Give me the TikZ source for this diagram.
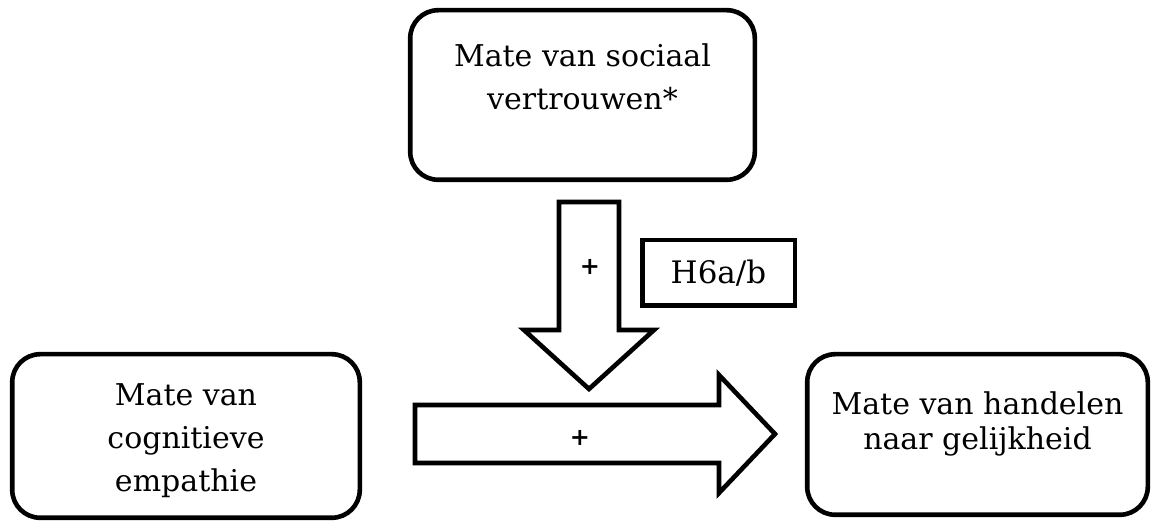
\documentclass[tikz,border=0pt]{standalone}
\usepackage{fontspec}
\setmainfont{DejaVu Serif}
\begin{document}
\begin{tikzpicture}[x=0.5pt, y=-0.5pt,
        box/.style={draw, line width=2.3pt, rounded corners=14pt},
        hbox/.style={draw, line width=2.3pt, font=\fontsize{15.5}{18}\selectfont},
        bigarrow/.style={draw, line width=2.3pt, line join=miter},
        txt/.style={align=center, inner sep=0pt, anchor=base, font=\fontsize{15}{21.5}\selectfont},
        sign/.style={inner sep=0pt, font=\fontsize{12}{14}\selectfont\bfseries}]
        \useasboundingbox (0,0) rectangle (1151,522);

        \node[box, minimum width=172.3pt, minimum height=84.8pt] (trust) at (582.5,95) {};
        \node[box, minimum width=173.8pt, minimum height=81.8pt] (empathy) at (186,436) {};
        \node[box, minimum width=170.3pt, minimum height=80.3pt] (equality) at (977.5,434.5) {};
        \node[hbox, minimum width=76.3pt, minimum height=32.8pt] (hyp) at (718.5,273) {H6a/b};

        \node[txt] (trusttxt) at (582.5,110) {Mate van sociaal\\vertrouwen*};
        \node[txt] (empathytxt) at (186,492) {Mate van\\cognitieve\\empathie};
        \node[txt, font=\fontsize{15}{17.5}\selectfont] (equalitytxt) at (977.5,450) {Mate van handelen\\naar gelijkheid};

        \coordinate (vs) at (589,202);
        \coordinate (ve) at (589,389);
        \coordinate (hs) at (415,434);
        \coordinate (he) at (775,434);

        \draw[bigarrow] (vs) ++(-30,0) -- ++(60,0) -- ++(0,128) -- ++(35,0) -- (ve) -- ++(-65,-59) -- ++(35,0) -- cycle;
        \draw[bigarrow] (hs) ++(0,-29) -- ++(304,0) -- ++(0,-30) -- (he) -- ++(-56,59) -- ++(0,-30) -- ++(-304,0) -- cycle;

        \node[sign] (vplus) at (590,267) {+};
        \node[sign] (hplus) at (580,438) {+};
    \end{tikzpicture}
\end{document}
